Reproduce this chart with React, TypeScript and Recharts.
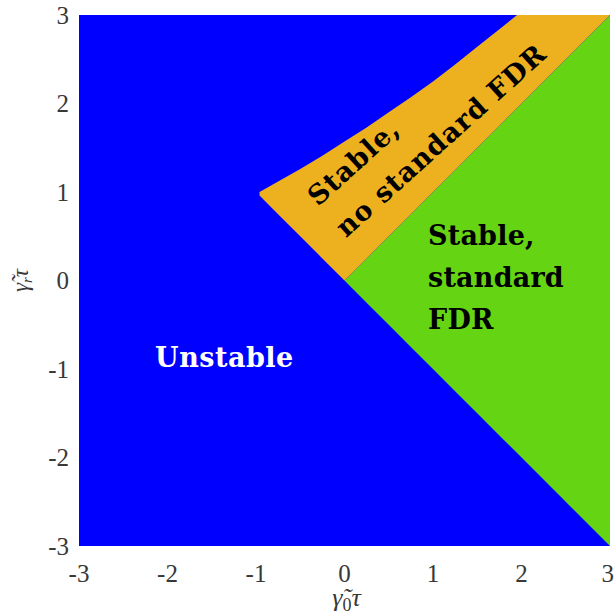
// App.tsx

import {
  ComposedChart,
  Area,
  XAxis,
  YAxis,
  CartesianGrid,
  ReferenceDot,
  Label,
} from "recharts";

// sample positions along the gamma_0 tau axis
const xs = [-0.96, -0.75, -0.5, -0.25, 0, 0.25, 0.5, 0.75, 1, 1.25, 1.5, 1.75, 1.95, 2.5, 3];

// "Stable, no standard FDR" band (orange)
const orangeLow = [0.96, 0.75, 0.5, 0.25, 0, 0.25, 0.5, 0.75, 1, 1.25, 1.5, 1.75, 1.95, 2.5, 3];
const orangeHigh = [1.0, 1.12, 1.26, 1.41, 1.57, 1.73, 1.9, 2.07, 2.25, 2.44, 2.64, 2.84, 3, 3, 3];

// "Stable, standard FDR" wedge (green)
const greenLow = [null, null, null, null, 0, -0.25, -0.5, -0.75, -1, -1.25, -1.5, -1.75, -1.95, -2.5, -3];
const greenHigh = [null, null, null, null, 0, 0.25, 0.5, 0.75, 1, 1.25, 1.5, 1.75, 1.95, 2.5, 3];

const ticks = [-3, -2, -1, 0, 1, 2, 3];

const data = xs.map((x, i) => ({
  x,
  orange: [orangeLow[i], orangeHigh[i]],
  green: greenHigh[i] == null ? null : [greenLow[i], greenHigh[i]],
}));

const BLUE = "#0000ff";
const ORANGE = "#edb120";
const GREEN = "#64d413";

const axisFont = "Liberation Serif";
const noteFont = "DejaVu Serif";

const tickStyle = {
  fill: "#383838",
  fontSize: 25,
  fontFamily: axisFont,
  style: { fontFamily: axisFont },
};

const XTitle = ({ viewBox }: any) => (
  <text
    x={viewBox.x + viewBox.width / 2 + 2}
    y={viewBox.y + 60}
    textAnchor="middle"
    fill="#383838"
    style={{ fontFamily: axisFont, fontSize: 26, fontStyle: "italic" }}
  >
    γ̃<tspan style={{ fontSize: 18, fontStyle: "normal" }} dy={5}>0</tspan>
    <tspan dy={-5}>τ</tspan>
  </text>
);

const YTitle = ({ viewBox }: any) => {
  const cx = viewBox.x + 28;
  const cy = viewBox.y + viewBox.height / 2;
  return (
    <text
      x={cx}
      y={cy}
      transform={`rotate(-90, ${cx}, ${cy})`}
      textAnchor="middle"
      fill="#383838"
      style={{ fontFamily: axisFont, fontSize: 23, fontStyle: "italic" }}
    >
      γ̃<tspan style={{ fontSize: 15 }} dy={4}>r</tspan>
      <tspan dy={-4}>τ</tspan>
    </text>
  );
};

const note = (lines: string[], color: string, angle = 0, spacing = 0.6) =>
  ({ viewBox }: any) => {
    const { x, y } = viewBox;
    return (
      <text
        x={x}
        y={y}
        transform={angle ? `rotate(${angle}, ${x}, ${y})` : undefined}
        fill={color}
        style={{
          fontFamily: noteFont,
          fontWeight: "bold",
          fontSize: 27,
          letterSpacing: spacing,
        }}
      >
        {lines.map((t, i) => (
          <tspan key={i} x={x} dy={i === 0 ? 0 : 42}>
            {t}
          </tspan>
        ))}
      </text>
    );
  };

export default function App() {
  return (
    <div style={{ position: "absolute", left: 0, top: 0, fontFamily: axisFont }}>
      <ComposedChart
        width={614}
        height={616}
        data={data}
        margin={{ top: 15, right: 4, bottom: 0, left: 0 }}
      >
        <CartesianGrid
          horizontal={false}
          vertical={false}
          fill={BLUE}
          fillOpacity={1}
          stroke="none"
        />
        <XAxis
          type="number"
          dataKey="x"
          domain={[-3, 3]}
          ticks={ticks}
          allowDataOverflow
          height={70}
          axisLine={false}
          tickLine={false}
          tickSize={0}
          tickMargin={18}
          tick={tickStyle}
        >
          <Label content={XTitle} />
        </XAxis>
        <YAxis
          type="number"
          domain={[-3, 3]}
          ticks={ticks}
          allowDataOverflow
          width={79}
          axisLine={false}
          tickLine={false}
          tickSize={0}
          tickMargin={10}
          tick={tickStyle}
        >
          <Label content={YTitle} />
        </YAxis>
        <Area
          type="linear"
          dataKey="green"
          fill={GREEN}
          fillOpacity={1}
          stroke="none"
          isAnimationActive={false}
        />
        <Area
          type="linear"
          dataKey="orange"
          fill={ORANGE}
          fillOpacity={1}
          stroke="none"
          isAnimationActive={false}
        />
        <ReferenceDot
          x={-2.14}
          y={-0.98}
          r={0}
          stroke="none"
          fill="none"
          label={note(["Unstable"], "#ffffff", 0, 0.5)}
        />
        <ReferenceDot
          x={0.944}
          y={0.4}
          r={0}
          stroke="none"
          fill="none"
          label={note(["Stable,", "standard", "FDR"], "#000000", 0, 0.2)}
        />
        <ReferenceDot
          x={-0.3}
          y={0.83}
          r={0}
          stroke="none"
          fill="none"
          label={note(["Stable,", "no standard FDR"], "#000000", -42, 1.1)}
        />
      </ComposedChart>
    </div>
  );
}
